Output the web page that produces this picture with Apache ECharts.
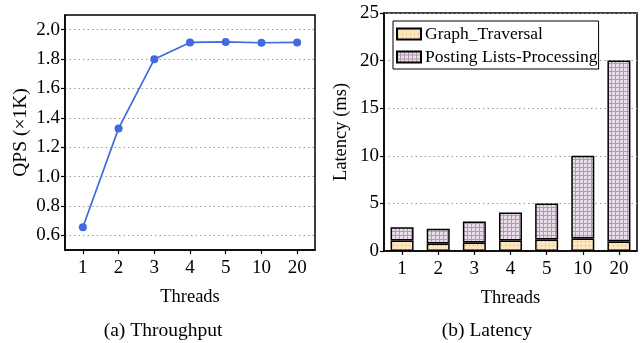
<!DOCTYPE html>
<html><head><meta charset="utf-8">
<script src="https://cdn.jsdelivr.net/npm/echarts@6/dist/echarts.min.js"></script>
<style>html,body{margin:0;padding:0;background:#fff}#c{width:644px;height:343px}</style>
</head><body><div id="c"></div>
<script>
const threads = ['1','2','3','4','5','10','20'];
const qps = [0.655, 1.328, 1.798, 1.913, 1.917, 1.911, 1.913];
const qpsTicks = [0.6, 0.8, 1.0, 1.2, 1.4, 1.6, 1.8, 2.0];
const graphTraversal = [1.1, 0.8, 0.9, 1.1, 1.2, 1.3, 1.0];
const postingLists = [1.4, 1.55, 2.2, 2.95, 3.8, 8.7, 19.0];
const latTicks = [0, 5, 10, 15, 20, 25];

function dotPattern(){
  const c=document.createElement('canvas');c.width=4;c.height=4;
  const g=c.getContext('2d');g.fillStyle='#fce5bc';g.fillRect(0,0,4,4);
  g.fillStyle='#c8a877';g.fillRect(1,1,1,1);return c;
}
function gridPattern(){
  const c=document.createElement('canvas');c.width=4;c.height=4;
  const g=c.getContext('2d');g.fillStyle='#e9dde9';g.fillRect(0,0,4,4);
  g.fillStyle='#b09bb0';g.fillRect(3,0,1,4);g.fillRect(0,3,4,1);return c;
}
const FONT='Liberation Serif';
const chart=echarts.init(document.getElementById('c'),null,{renderer:'canvas'});
const axisLineStyle={lineStyle:{color:'#000',width:1.5}};
const tickStyle={show:true,inside:false,length:4,lineStyle:{color:'#000',width:1.2}};
const splitStyle={show:true,lineStyle:{color:'#999',type:[1.5,3],width:1}};
const lbl={fontFamily:FONT,fontSize:19,color:'#000'};
chart.setOption({
  animation:false,
  textStyle:{fontFamily:FONT,color:'#000'},
  grid:[
    {left:65,right:329,top:15,bottom:93,show:true,borderColor:'#000',borderWidth:1.5,containLabel:false},
    {left:384,right:7,top:13,bottom:92,show:true,borderColor:'#000',borderWidth:1.5,containLabel:false}
  ],
  legend:{
    left:393,top:21,orient:'vertical',itemWidth:24,itemHeight:11,itemGap:5,icon:'rect',
    padding:[4,1,3,3],borderColor:'#000',borderWidth:1,backgroundColor:'#fff',borderRadius:0,
    textStyle:{fontFamily:FONT,fontSize:17.5,color:'#000',padding:[0,0,0,-1]},
    data:['Graph_Traversal','Posting Lists-Processing']
  },
  xAxis:[
    {type:'category',gridIndex:0,data:threads,boundaryGap:true,axisLine:axisLineStyle,
     axisTick:Object.assign({alignWithLabel:true},tickStyle),
     axisLabel:Object.assign({margin:9},lbl),
     name:'Threads',nameLocation:'middle',nameGap:38,nameTextStyle:{fontFamily:FONT,fontSize:18.5,color:'#000'}},
    {type:'category',gridIndex:1,data:threads,boundaryGap:true,axisLine:axisLineStyle,
     axisTick:Object.assign({alignWithLabel:true},tickStyle),
     axisLabel:Object.assign({margin:9},lbl),
     name:'Threads',nameLocation:'middle',nameGap:38,nameTextStyle:{fontFamily:FONT,fontSize:18.5,color:'#000'}}
  ],
  yAxis:[
    {type:'value',gridIndex:0,min:0.5,max:2.1,axisLine:Object.assign({show:true},axisLineStyle),
     axisTick:Object.assign({customValues:qpsTicks},tickStyle),
     axisLabel:Object.assign({customValues:qpsTicks,margin:5,formatter:v=>v.toFixed(1)},lbl),
     splitLine:splitStyle,
     name:'QPS (×1K)',nameLocation:'middle',nameGap:34,nameTextStyle:{fontFamily:FONT,fontSize:19.5,color:'#000'}},
    {type:'value',gridIndex:1,min:0,max:25,interval:5,axisLine:Object.assign({show:true},axisLineStyle),
     axisTick:tickStyle,
     axisLabel:Object.assign({margin:5,customValues:latTicks},lbl),
     splitLine:splitStyle,
     name:'Latency (ms)',nameLocation:'middle',nameGap:33,nameTextStyle:{fontFamily:FONT,fontSize:18.5,color:'#000'}}
  ],
  series:[
    {type:'line',xAxisIndex:0,yAxisIndex:0,data:qps,symbol:'circle',symbolSize:8,
     lineStyle:{color:'#4169e1',width:1.7},itemStyle:{color:'#4169e1'}},
    {type:'bar',name:'Graph_Traversal',xAxisIndex:1,yAxisIndex:1,stack:'lat',barWidth:23,data:graphTraversal,
     itemStyle:{color:{image:dotPattern(),repeat:'repeat'},borderColor:'#000',borderWidth:1.5}},
    {type:'bar',name:'Posting Lists-Processing',xAxisIndex:1,yAxisIndex:1,stack:'lat',barWidth:23,data:postingLists,
     itemStyle:{color:{image:gridPattern(),repeat:'repeat'},borderColor:'#000',borderWidth:1.5}}
  ],
  graphic:[
    {type:'text',x:163,y:331,style:{text:'(a) Throughput',align:'center',verticalAlign:'middle',font:'19.5px "Liberation Serif"',fill:'#000'}},
    {type:'text',x:487,y:331,style:{text:'(b) Latency',align:'center',verticalAlign:'middle',font:'19.5px "Liberation Serif"',fill:'#000'}}
  ]
});
</script></body></html>
